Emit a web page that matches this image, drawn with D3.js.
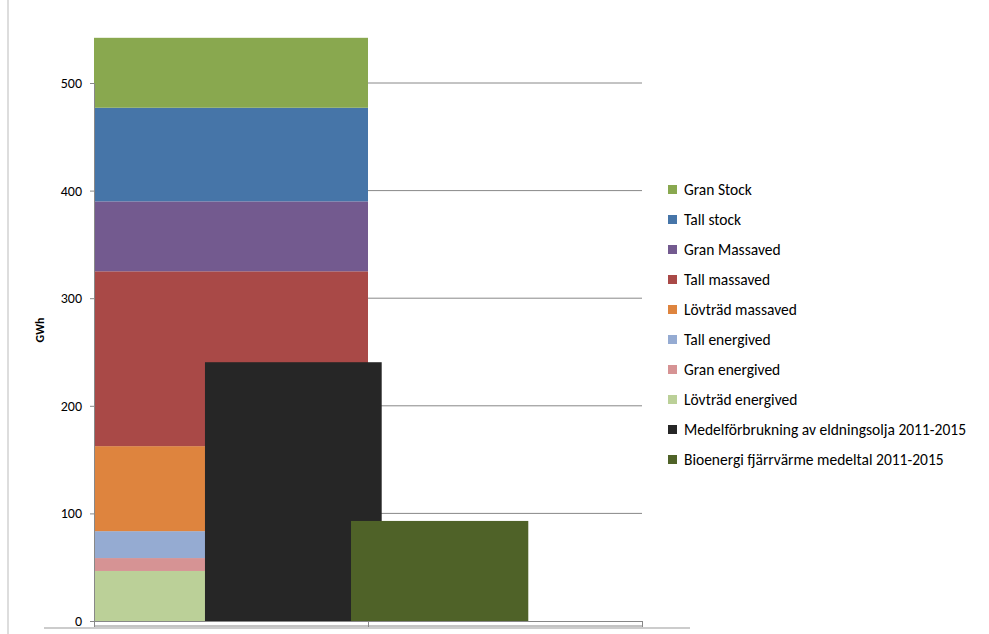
<!DOCTYPE html>
<html><head><meta charset="utf-8">
<script src="https://cdn.jsdelivr.net/npm/d3@7"></script>
<style>body{margin:0;background:#fff}text{font-family:Calibri,Carlito,"Liberation Sans",sans-serif}</style>
</head><body>
<svg id="c" width="989" height="634"></svg>
<script>
// stacked wood categories (bottom to top)
var woodNames = ["Lövträd energived","Gran energived","Tall energived","Lövträd massaved","Tall massaved","Gran Massaved","Tall stock","Gran Stock"];
var woodValues = [46.5, 12, 25, 79, 162.5, 65, 87, 65];
var woodColors = ["#bbd098","#d69394","#95abd2","#de843e","#a94947","#735a8f","#4675a8","#89a84f"];
var compNames = ["Medelförbrukning av eldningsolja 2011-2015","Bioenergi fjärrvärme medeltal 2011-2015"];
var compValues = [240.5, 93];
var compColors = ["#262626","#4f6228"];
var yTicks = [0,100,200,300,400,500];

var svg = d3.select("#c");
var y = d3.scaleLinear().domain([0,500]).range([621,83]);
var x = d3.scaleLinear().domain([0,2]).range([94,642]);

// frame lines
svg.append("line").attr("x1",8).attr("x2",8).attr("y1",0).attr("y2",634).attr("stroke","#bbb");
svg.append("line").attr("x1",44).attr("x2",690).attr("y1",628).attr("y2",628).attr("stroke","#ccc").attr("stroke-width",2);

// grid
svg.selectAll(".g").data(yTicks.slice(1)).enter().append("line")
  .attr("x1",x(0)).attr("x2",x(2)).attr("y1",d=>y(d)).attr("y2",d=>y(d)).attr("stroke","#888");

// stacked bar
var cum = 0;
var stack = woodValues.map(function(v,i){ var s={y0:cum,y1:cum+v,c:woodColors[i]}; cum+=v; return s; });
svg.selectAll(".s").data(stack).enter().append("rect")
  .attr("x",x(0)).attr("width",x(1)-x(0))
  .attr("y",d=>y(d.y1)).attr("height",d=>y(d.y0)-y(d.y1)).attr("fill",d=>d.c);

// comparison bars
var compX = [[0.405,1.05],[0.938,1.585]];
svg.selectAll(".b").data(compValues).enter().append("rect")
  .attr("x",(d,i)=>x(compX[i][0])).attr("width",(d,i)=>x(compX[i][1])-x(compX[i][0]))
  .attr("y",d=>y(d)).attr("height",d=>y(0)-y(d)).attr("fill",(d,i)=>compColors[i]);

// axes
var ya = svg.append("g").attr("transform","translate(94,0)")
  .call(d3.axisLeft(y).tickValues(yTicks).tickSize(4).tickPadding(8));
ya.selectAll("text").attr("font-size",14).attr("fill","#000");
ya.selectAll("line,path").attr("stroke","#888");
var xa = svg.append("g").attr("transform","translate(0,621)")
  .call(d3.axisBottom(x).tickValues([0,1,2]).tickSize(6).tickFormat(""));
xa.selectAll("line,path").attr("stroke","#888");
svg.append("line").attr("x1",x(0)).attr("x2",x(2)).attr("y1",626).attr("y2",626).attr("stroke","#888");

svg.append("text").attr("transform","translate(44,330) rotate(-90)").attr("text-anchor","middle")
  .attr("font-size",12).attr("font-weight","bold").text("GWh");

// legend
var legNames = woodNames.slice().reverse().concat(compNames);
var legColors = woodColors.slice().reverse().concat(compColors);
var lg = svg.selectAll(".l").data(legNames).enter().append("g")
  .attr("transform",(d,i)=>"translate(668,"+(190+i*30)+")");
lg.append("rect").attr("x",0).attr("y",-5).attr("width",9).attr("height",9).attr("fill",(d,i)=>legColors[i]);
lg.append("text").attr("x",16).attr("y",5).attr("font-size",15.5).text(d=>d);
</script>
</body></html>
